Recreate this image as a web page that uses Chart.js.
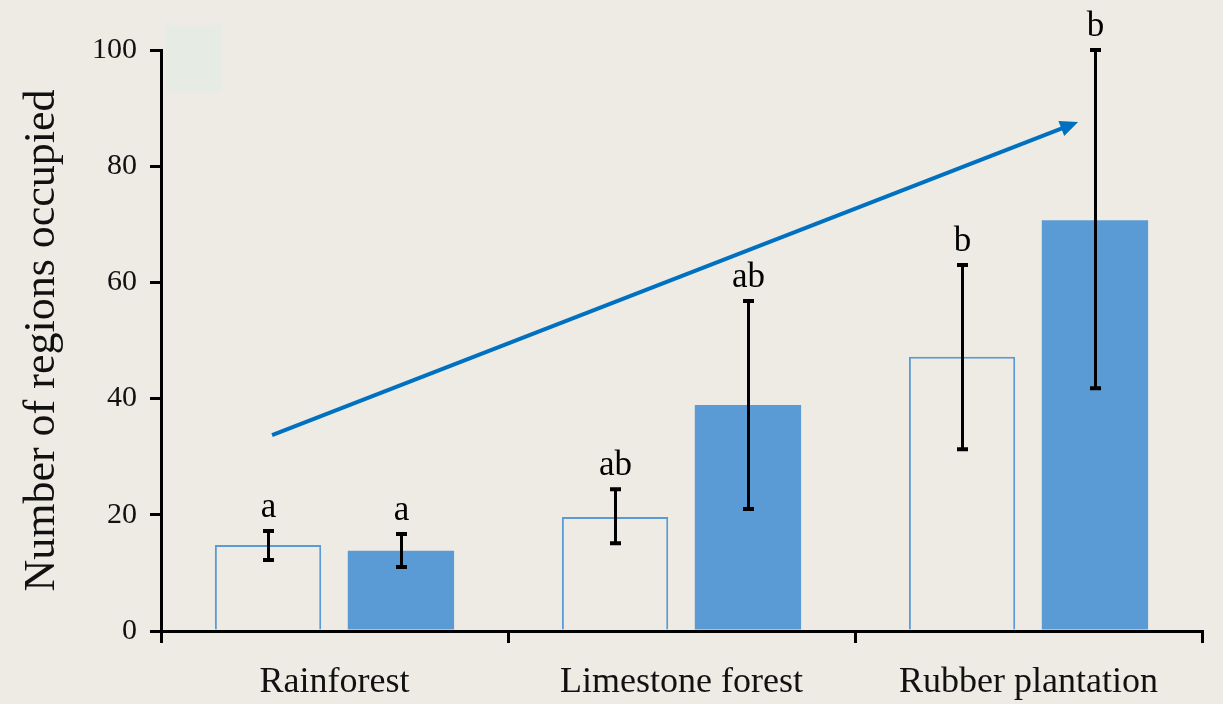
<!DOCTYPE html>
<html>
<head>
<meta charset="utf-8">
<script src="https://cdn.jsdelivr.net/npm/chart.js@4/dist/chart.umd.min.js"></script>
<style>
  html, body { margin: 0; padding: 0; background: #eeebe4; }
  #wrap { width: 1223px; height: 704px; }
</style>
</head>
<body>
<div id="wrap"><canvas id="c" width="1223" height="704"></canvas></div>
<script>
// ---- data ----
const categories = ["Rainforest", "Limestone forest", "Rubber plantation"];
const openValues = [14.8, 19.6, 47.2];
const openErrLow = [12.2, 15.1, 31.3];
const openErrHigh = [17.2, 24.4, 63.0];
const openLetters = ["a", "ab", "b"];
const filledValues = [13.8, 38.9, 70.7];
const filledErrLow = [11.0, 21.0, 41.8];
const filledErrHigh = [16.7, 56.8, 100];
const filledLetters = ["a", "ab", "b"];
const yTicks = [0, 20, 40, 60, 80, 100];
const yTitle = "Number of regions occupied";
// trend arrow in data space (category index, value)
const arrowFrom = [-0.18, 33.7];
const arrowTo = [2.143, 87.6];

const BG = '#eeebe4';
const BLUE = '#5b9bd5';
const SERIF = '"Liberation Serif", "Times New Roman", serif';

const errors = [
  { low: openErrLow, high: openErrHigh, letters: openLetters },
  { low: filledErrLow, high: filledErrHigh, letters: filledLetters }
];

const bgPlugin = {
  id: 'bg',
  beforeDraw(chart) {
    const ctx = chart.ctx;
    ctx.save();
    ctx.fillStyle = BG;
    ctx.fillRect(0, 0, chart.width, chart.height);
    ctx.fillStyle = '#e6ebe4';
    ctx.fillRect(166, 25, 56, 67);
    ctx.restore();
  }
};

const errPlugin = {
  id: 'errbars',
  afterDatasetsDraw(chart) {
    const ctx = chart.ctx;
    const ys = chart.scales.y, xs = chart.scales.x;
    ctx.save();
    errors.forEach((e, di) => {
      const meta = chart.getDatasetMeta(di);
      meta.data.forEach((bar, i) => {
        const x = Math.round(bar.x) + 0.5;
        const yl = ys.getPixelForValue(e.low[i]);
        const yh = ys.getPixelForValue(e.high[i]);
        ctx.strokeStyle = '#000';
        ctx.lineWidth = 3;
        ctx.beginPath();
        ctx.moveTo(x, yl); ctx.lineTo(x, yh);
        ctx.stroke();
        ctx.lineWidth = 4;
        ctx.beginPath();
        ctx.moveTo(x - 5.5, yh); ctx.lineTo(x + 5.5, yh);
        ctx.moveTo(x - 5.5, yl); ctx.lineTo(x + 5.5, yl);
        ctx.stroke();
        ctx.fillStyle = '#000';
        ctx.font = '35px ' + SERIF;
        ctx.textAlign = 'center';
        ctx.textBaseline = 'alphabetic';
        ctx.fillText(e.letters[i], x, yh - 14);
      });
    });
    // trend arrow
    const x1 = xs.getPixelForValue(arrowFrom[0]);
    const y1 = ys.getPixelForValue(arrowFrom[1]);
    const x2 = xs.getPixelForValue(arrowTo[0]);
    const y2 = ys.getPixelForValue(arrowTo[1]);
    const ang = Math.atan2(y2 - y1, x2 - x1);
    const headLen = 18, headW = 8;
    const bx = x2 - headLen * Math.cos(ang), by = y2 - headLen * Math.sin(ang);
    ctx.strokeStyle = '#0070c0';
    ctx.fillStyle = '#0070c0';
    ctx.lineWidth = 4;
    ctx.beginPath();
    ctx.moveTo(x1, y1); ctx.lineTo(bx + 2 * Math.cos(ang), by + 2 * Math.sin(ang));
    ctx.stroke();
    ctx.beginPath();
    ctx.moveTo(x2, y2);
    ctx.lineTo(bx + headW * Math.sin(ang), by - headW * Math.cos(ang));
    ctx.lineTo(bx - headW * Math.sin(ang), by + headW * Math.cos(ang));
    ctx.closePath();
    ctx.fill();
    ctx.restore();
  }
};

new Chart(document.getElementById('c'), {
  type: 'bar',
  data: {
    labels: categories,
    datasets: [
      {
        label: 'Open',
        data: openValues,
        backgroundColor: BG,
        borderColor: BLUE,
        borderWidth: 2,
        borderSkipped: 'start',
        categoryPercentage: 0.766,
        barPercentage: 0.80
      },
      {
        label: 'Filled',
        data: filledValues,
        backgroundColor: BLUE,
        borderWidth: 0,
        categoryPercentage: 0.766,
        barPercentage: 0.80
      }
    ]
  },
  options: {
    responsive: false,
    animation: false,
    devicePixelRatio: 1,
    layout: { padding: { left: 16, top: 50, right: 21, bottom: 0 } },
    plugins: { legend: { display: false }, tooltip: { enabled: false } },
    scales: {
      x: {
        offset: true,
        border: { display: true, color: '#000', width: 3 },
        grid: { display: true, offset: true, drawOnChartArea: false, drawTicks: true, tickLength: 12, color: '#000', lineWidth: 3 },
        ticks: { color: '#111', font: { family: SERIF, size: 36 }, padding: 18, maxRotation: 0 },
        afterFit(s) { s.height = 73; }
      },
      y: {
        min: 0, max: 100,
        afterBuildTicks(s) { s.ticks = yTicks.map(v => ({ value: v })); },
        border: { display: true, color: '#000', width: 3 },
        grid: { display: true, drawOnChartArea: false, drawTicks: true, tickLength: 11, color: '#000', lineWidth: 3 },
        ticks: { color: '#111', font: { family: SERIF, size: 30 }, padding: 13 },
        title: { display: true, text: yTitle, color: '#111', font: { family: SERIF, size: 44 }, padding: { top: 0, bottom: 0 } },
        afterFit(s) { s.width = 145; }
      }
    }
  },
  plugins: [bgPlugin, errPlugin]
});
</script>
</body>
</html>
